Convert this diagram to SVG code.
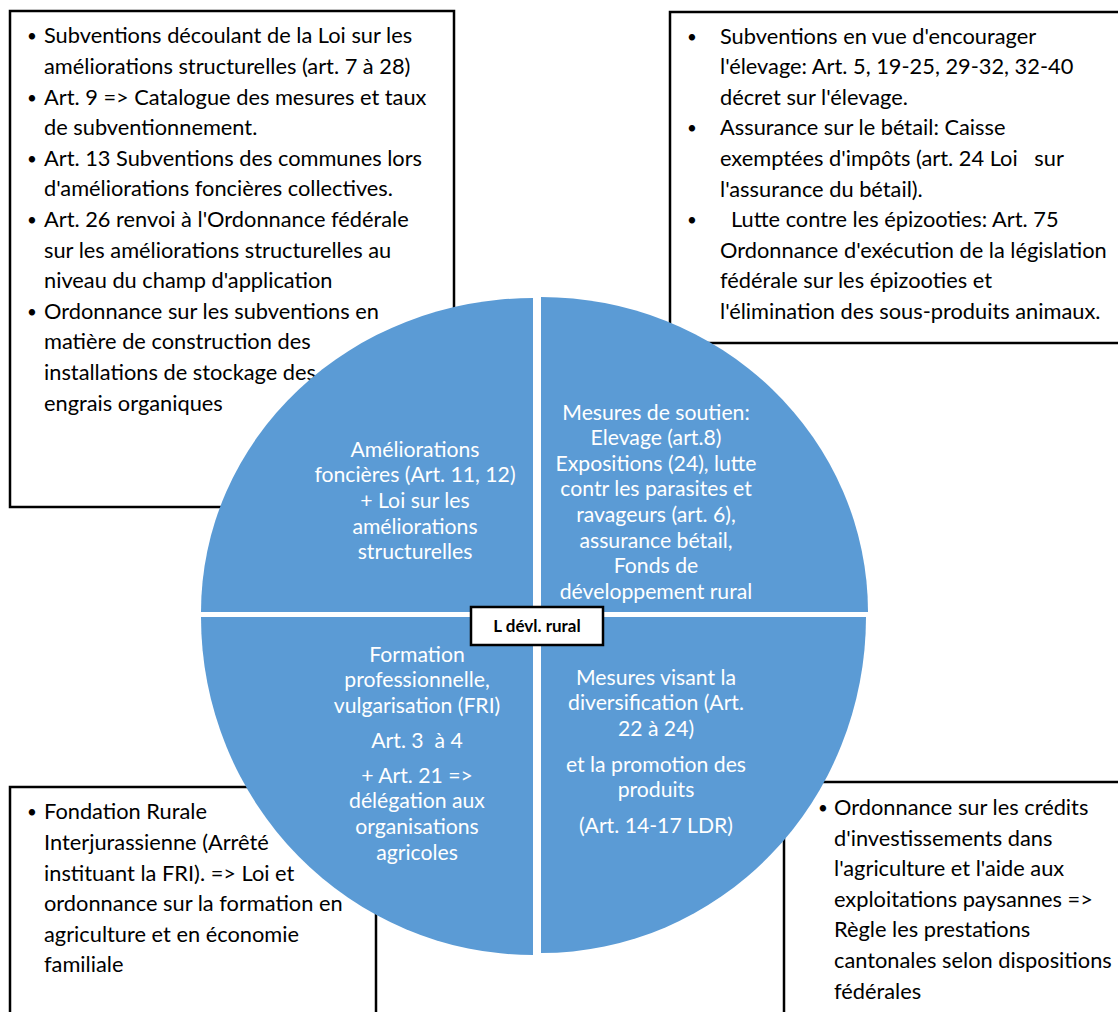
<svg xmlns="http://www.w3.org/2000/svg" width="1118" height="1012" viewBox="0 0 1118 1012">
  <style>
    .box { fill: #ffffff; stroke: #000000; stroke-width: 2.5; }
    .seg { fill: #5B9BD5; }
    .txt { font-family: Lato, "Liberation Sans", sans-serif; font-size: 21.8px; fill: #000000; }
    .bul { font-family: Lato, "Liberation Sans", sans-serif; font-size: 17px; fill: #000000; text-anchor: middle; }
    .in { font-family: Lato, "Liberation Sans", sans-serif; font-size: 21.2px; fill: #ffffff; text-anchor: middle; }
    .hub { fill: #ffffff; stroke: #000000; stroke-width: 2.5; }
    .hubtxt { font-family: Lato, "Liberation Sans", sans-serif; font-size: 17px; font-weight: bold; fill: #000000; text-anchor: middle; }
  </style>

  <!-- Legal reference boxes (behind the circle) -->
  <g id="box-top-left">
    <rect class="box" x="10" y="11" width="444" height="496"/>
    <text class="bul" x="32" y="42.3">•</text>
    <text class="txt" x="44" y="43.3">Subventions découlant de la Loi sur les</text>
    <text class="txt" x="44" y="73.9">améliorations structurelles (art. 7 à 28)</text>
    <text class="bul" x="32" y="103.5">•</text>
    <text class="txt" x="44" y="104.5">Art. 9 =&gt; Catalogue des mesures et taux</text>
    <text class="txt" x="44" y="135.1">de subventionnement.</text>
    <text class="bul" x="32" y="164.7">•</text>
    <text class="txt" x="44" y="165.7">Art. 13 Subventions des communes lors</text>
    <text class="txt" x="44" y="196.3">d'améliorations foncières collectives.</text>
    <text class="bul" x="32" y="225.9">•</text>
    <text class="txt" x="44" y="226.9">Art. 26 renvoi à l'Ordonnance fédérale</text>
    <text class="txt" x="44" y="257.5">sur les améliorations structurelles au</text>
    <text class="txt" x="44" y="288.1">niveau du champ d'application</text>
    <text class="bul" x="32" y="317.7">•</text>
    <text class="txt" x="44" y="318.7">Ordonnance sur les subventions en</text>
    <text class="txt" x="44" y="349.3">matière de construction des</text>
    <text class="txt" x="44" y="379.9">installations de stockage des</text>
    <text class="txt" x="44" y="410.5">engrais organiques</text>
  </g>

  <g id="box-top-right">
    <rect class="box" x="670" y="12" width="460" height="331"/>
    <text class="bul" x="692" y="42.5">•</text>
    <text class="txt" x="720" y="43.5">Subventions en vue d'encourager</text>
    <text class="txt" x="720" y="74.1">l'élevage: Art. 5, 19-25, 29-32, 32-40</text>
    <text class="txt" x="720" y="104.7">décret sur l'élevage.</text>
    <text class="bul" x="692" y="134.3">•</text>
    <text class="txt" x="720" y="135.3">Assurance sur le bétail: Caisse</text>
    <text class="txt" x="720" y="165.9" xml:space="preserve">exemptées d'impôts (art. 24 Loi   sur</text>
    <text class="txt" x="720" y="196.5">l'assurance du bétail).</text>
    <text class="bul" x="692" y="226.1">•</text>
    <text class="txt" x="731" y="227.1">Lutte contre les épizooties: Art. 75</text>
    <text class="txt" x="720" y="257.7">Ordonnance d'exécution de la législation</text>
    <text class="txt" x="720" y="288.3">fédérale sur les épizooties et</text>
    <text class="txt" x="720" y="318.9">l'élimination des sous-produits animaux.</text>
  </g>

  <g id="box-bottom-left">
    <rect class="box" x="10" y="787" width="366" height="240"/>
    <text class="bul" x="32" y="818.3">•</text>
    <text class="txt" x="44" y="819.3">Fondation Rurale</text>
    <text class="txt" x="44" y="849.9">Interjurassienne (Arrêté</text>
    <text class="txt" x="44" y="880.5">instituant la FRI). =&gt; Loi et</text>
    <text class="txt" x="44" y="911.1">ordonnance sur la formation en</text>
    <text class="txt" x="44" y="941.7">agriculture et en économie</text>
    <text class="txt" x="44" y="972.3">familiale</text>
  </g>

  <g id="box-bottom-right">
    <rect class="box" x="784" y="782" width="346" height="250"/>
    <text class="bul" x="823" y="814">•</text>
    <text class="txt" x="834" y="815">Ordonnance sur les crédits</text>
    <text class="txt" x="834" y="845.6">d'investissements dans</text>
    <text class="txt" x="834" y="876.2">l'agriculture et l'aide aux</text>
    <text class="txt" x="834" y="906.8">exploitations paysannes =&gt;</text>
    <text class="txt" x="834" y="937.4">Règle les prestations</text>
    <text class="txt" x="834" y="968">cantonales selon dispositions</text>
    <text class="txt" x="834" y="998.6">fédérales</text>
  </g>

  <!-- Four quarter segments of the central disc -->
  <g id="seg-top-left">
    <path class="seg" d="M533,612 L201,612 A332,314 0 0 1 533,298 Z"/>
    <text class="in" x="415" y="456.7">Améliorations</text>
    <text class="in" x="415" y="482.3">foncières (Art. 11, 12)</text>
    <text class="in" x="415" y="507.9">+ Loi sur les</text>
    <text class="in" x="415" y="533.5">améliorations</text>
    <text class="in" x="415" y="559.1">structurelles</text>
  </g>

  <g id="seg-top-right">
    <path class="seg" d="M541,612 L541,297 A327,315 0 0 1 868,612 Z"/>
    <text class="in" x="656" y="419.5">Mesures de soutien:</text>
    <text class="in" x="656" y="445.1">Elevage (art.8)</text>
    <text class="in" x="656" y="470.7">Expositions (24), lutte</text>
    <text class="in" x="656" y="496.3">contr les parasites et</text>
    <text class="in" x="656" y="521.9">ravageurs (art. 6),</text>
    <text class="in" x="656" y="547.5">assurance bétail,</text>
    <text class="in" x="656" y="573.1">Fonds de</text>
    <text class="in" x="656" y="598.7">développement rural</text>
  </g>

  <g id="seg-bottom-left">
    <path class="seg" d="M533,617 L533,955 A332,338 0 0 1 201,617 Z"/>
    <text class="in" x="417" y="661.7">Formation</text>
    <text class="in" x="417" y="687.3">professionnelle,</text>
    <text class="in" x="417" y="712.9">vulgarisation (FRI)</text>
    <text class="in" x="417" y="748" xml:space="preserve">Art. 3  à 4</text>
    <text class="in" x="417" y="782.7">+ Art. 21 =&gt;</text>
    <text class="in" x="417" y="808.3">délégation aux</text>
    <text class="in" x="417" y="833.9">organisations</text>
    <text class="in" x="417" y="859.5">agricoles</text>
  </g>

  <g id="seg-bottom-right">
    <path class="seg" d="M541,617 L866,617 A325,336 0 0 1 541,953 Z"/>
    <text class="in" x="656" y="684.5">Mesures visant la</text>
    <text class="in" x="656" y="710.1">diversification (Art.</text>
    <text class="in" x="656" y="735.7">22 à 24)</text>
    <text class="in" x="656" y="771.7">et la promotion des</text>
    <text class="in" x="656" y="797.3">produits</text>
    <text class="in" x="656" y="833">(Art. 14-17 LDR)</text>
  </g>

  <!-- Central hub label -->
  <g id="hub">
    <rect class="hub" x="471" y="607" width="132" height="38"/>
    <text class="hubtxt" x="537" y="631.5">L dévl. rural</text>
  </g>

  <!-- No connectors in this figure -->
  <g id="connectors"/>
</svg>
